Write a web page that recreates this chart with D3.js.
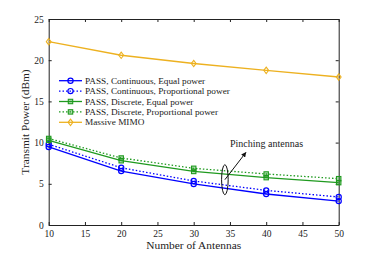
<!DOCTYPE html>
<html>
<head>
<meta charset="utf-8">
<script src="https://cdn.jsdelivr.net/npm/d3@7"></script>
<style>
  body { margin: 0; background: #fff; }
  text { font-family: "Liberation Serif", "DejaVu Serif", serif; fill: #222; }
</style>
</head>
<body>
<svg id="chart" width="374" height="253"></svg>
<script>
// values
var antennas = [10, 20, 30, 40, 50];
var xTicks = [10, 15, 20, 25, 30, 35, 40, 45, 50];
var yTicks = [0, 5, 10, 15, 20, 25];

var contEqual = [9.47, 6.55, 4.98, 3.76, 2.9];
var contProp  = [9.8, 6.95, 5.34, 4.2, 3.4];
var discEqual = [10.28, 7.8, 6.5, 5.75, 5.14];
var discProp  = [10.5, 8.13, 6.88, 6.19, 5.62];
var mimo      = [22.25, 20.6, 19.6, 18.77, 17.96];

var series = [
  {name: "PASS, Continuous, Equal power",        vals: contEqual, color: "#0000ff", dash: null,  marker: "circle"},
  {name: "PASS, Continuous, Proportional power", vals: contProp,  color: "#0000ff", dash: "1.5,2", marker: "circle"},
  {name: "PASS, Discrete, Equal power",          vals: discEqual, color: "#1f9a1f", dash: null,  marker: "square"},
  {name: "PASS, Discrete, Proportional power",   vals: discProp,  color: "#1f9a1f", dash: "1.5,2", marker: "square"},
  {name: "Massive MIMO",                         vals: mimo,      color: "#edb120", dash: null,  marker: "diamond"}
];

var svg = d3.select("#chart");
var m = {left: 48.7, right: 338.7, top: 19, bottom: 225};

var x = d3.scaleLinear().domain([10, 50]).range([m.left, m.right]);
var y = d3.scaleLinear().domain([0, 25]).range([m.bottom, m.top]);

// axes: ticks inside, mirrored on top/right
var tk = 3;
svg.append("g").attr("transform", "translate(0," + m.bottom + ")")
  .call(d3.axisBottom(x).tickValues(xTicks).tickSizeInner(-tk).tickSizeOuter(0).tickPadding(5))
  .call(g => g.selectAll("text").attr("font-size", 9.5));
svg.append("g").attr("transform", "translate(0," + m.top + ")")
  .call(d3.axisTop(x).tickValues(xTicks).tickSizeInner(-tk).tickSizeOuter(0).tickFormat(""));
svg.append("g").attr("transform", "translate(" + m.left + ",0)")
  .call(d3.axisLeft(y).tickValues(yTicks).tickSizeInner(-tk).tickSizeOuter(0).tickPadding(5))
  .call(g => g.selectAll("text").attr("font-size", 9.5));
svg.append("g").attr("transform", "translate(" + m.right + ",0)")
  .call(d3.axisRight(y).tickValues(yTicks).tickSizeInner(-tk).tickSizeOuter(0).tickFormat(""));
svg.selectAll(".domain").attr("stroke", "#222");
svg.selectAll(".tick line").attr("stroke", "#222");
svg.selectAll(".tick text").attr("fill", "#222").attr("font-family", "Liberation Serif, serif");

svg.append("text").attr("x", (m.left + m.right) / 2).attr("y", 249)
  .attr("text-anchor", "middle").attr("font-size", 11.4).text("Number of Antennas");
svg.append("text").attr("transform", "translate(29," + ((m.top + m.bottom) / 2) + ") rotate(-90)")
  .attr("text-anchor", "middle").attr("font-size", 11.4).text("Transmit Power (dBm)");

var line = d3.line().x((d, i) => x(antennas[i])).y(d => y(d));

function drawMarker(g, type, cx, cy, color) {
  if (type === "circle") {
    g.append("circle").attr("cx", cx).attr("cy", cy).attr("r", 2.6)
      .attr("fill", "none").attr("stroke", color).attr("stroke-width", 1.2);
  } else if (type === "square") {
    g.append("rect").attr("x", cx - 2.2).attr("y", cy - 2.2).attr("width", 4.4).attr("height", 4.4)
      .attr("fill", color).attr("fill-opacity", 0.35).attr("stroke", color).attr("stroke-width", 1.1);
  } else {
    g.append("path").attr("d", "M" + cx + "," + (cy - 3.2) + "L" + (cx + 2.4) + "," + cy + "L" + cx + "," + (cy + 3.2) + "L" + (cx - 2.4) + "," + cy + "Z")
      .attr("fill", "none").attr("stroke", color).attr("stroke-width", 1.1);
  }
}

series.forEach(function(s) {
  var g = svg.append("g");
  g.append("path").attr("d", line(s.vals)).attr("fill", "none")
    .attr("stroke", s.color).attr("stroke-width", 1.3)
    .attr("stroke-dasharray", s.dash);
  s.vals.forEach(function(v, i) { drawMarker(g, s.marker, x(antennas[i]), y(v), s.color); });
});

// legend
var lg = svg.append("g");
series.forEach(function(s, i) {
  var ly = 80.7 + i * 10.4;
  lg.append("line").attr("x1", 59).attr("x2", 82).attr("y1", ly).attr("y2", ly)
    .attr("stroke", s.color).attr("stroke-width", 1.3).attr("stroke-dasharray", s.dash);
  drawMarker(lg, s.marker, 70.5, ly, s.color);
  lg.append("text").attr("x", 85).attr("y", ly + 3).attr("font-size", 9.25).text(s.name);
});

// annotation
svg.append("defs").append("marker").attr("id", "arr").attr("viewBox", "0 0 10 10")
  .attr("refX", 9).attr("refY", 5).attr("markerWidth", 5).attr("markerHeight", 5).attr("orient", "auto")
  .append("path").attr("d", "M0,0L10,5L0,10Z").attr("fill", "#111");
var ex = x(34.3), ey = y(5.5);
svg.append("ellipse").attr("cx", ex).attr("cy", ey).attr("rx", 3.3).attr("ry", 15)
  .attr("fill", "none").attr("stroke", "#111").attr("stroke-width", 1);
svg.append("line").attr("x1", ex).attr("y1", ey).attr("x2", x(37.2)).attr("y2", y(8.8))
  .attr("stroke", "#111").attr("stroke-width", 1).attr("marker-end", "url(#arr)");
svg.append("text").attr("x", 230).attr("y", 147).attr("font-size", 10).text("Pinching antennas");
</script>
</body>
</html>
